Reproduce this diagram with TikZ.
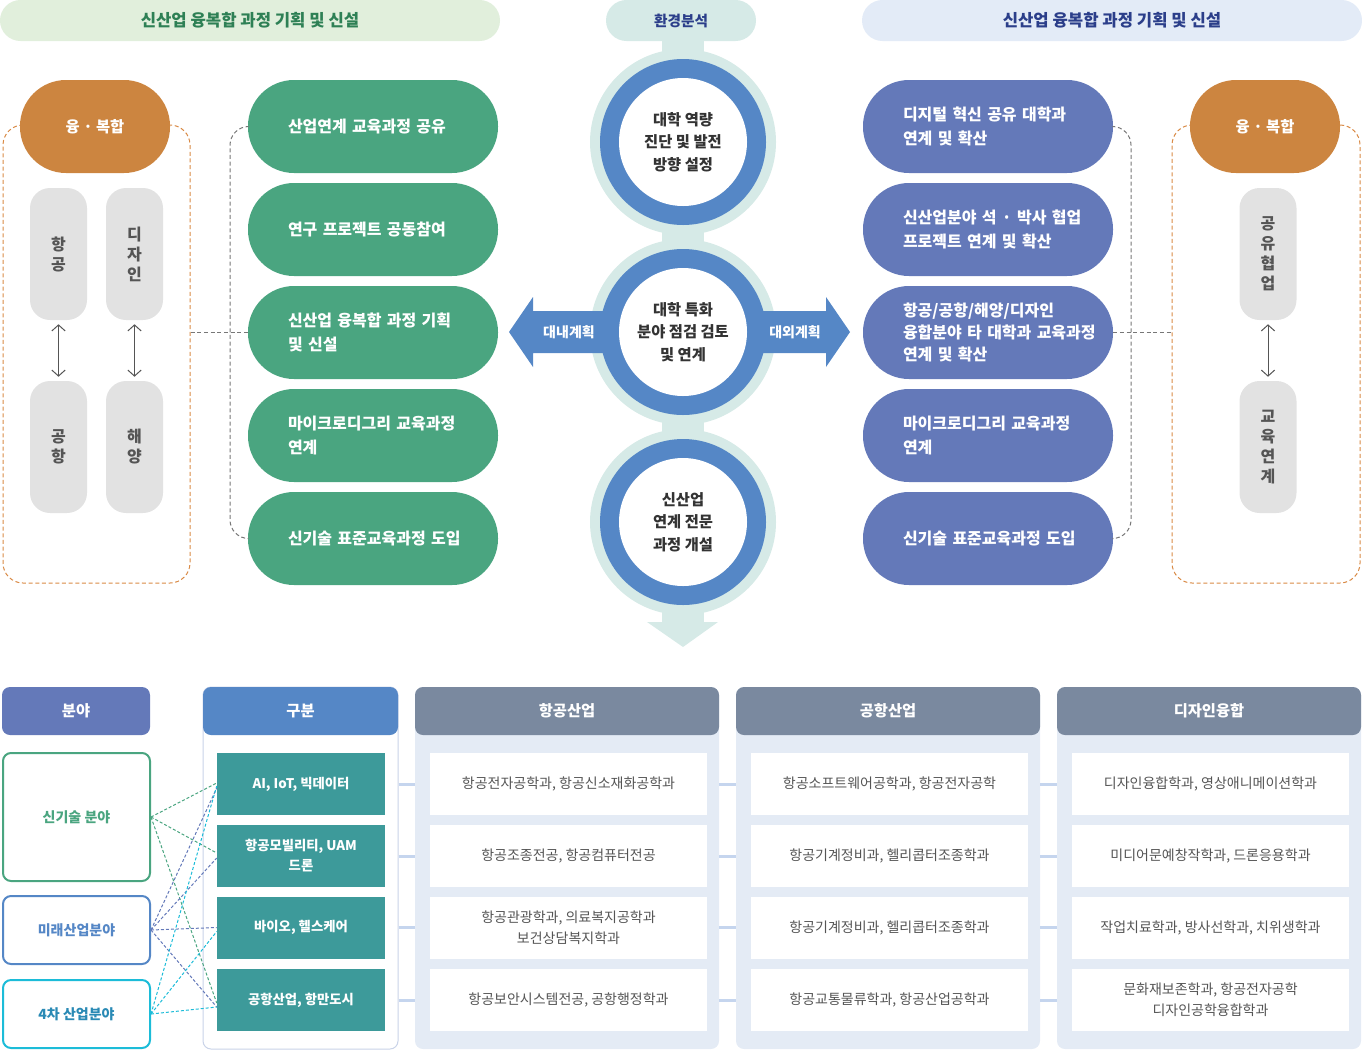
\documentclass[tikz,border=0pt]{standalone}
\usepackage{fontspec}
\setmainfont{Noto Sans CJK KR}
\usetikzlibrary{arrows.meta}
\definecolor{hdrgreenbg}{HTML}{E1EFDC}
\definecolor{hdrgreentx}{HTML}{2E8055}
\definecolor{navy}{HTML}{2B3E8A}
\definecolor{hdrbluebg}{HTML}{E3EBF7}
\definecolor{pgreen}{HTML}{4AA580}
\definecolor{ppurple}{HTML}{6479B9}
\definecolor{porange}{HTML}{CC8540}
\definecolor{pgray}{HTML}{E2E2E2}
\definecolor{tgray}{HTML}{555555}
\definecolor{tdark}{HTML}{333333}
\definecolor{ringblue}{HTML}{5587C6}
\definecolor{ringteal}{HTML}{D6EAE7}
\definecolor{tealbox}{HTML}{3D9A9A}
\definecolor{colhdr}{HTML}{7A899F}
\definecolor{colbg}{HTML}{E4EBF5}
\definecolor{linkblue}{HTML}{C5D5EE}
\definecolor{panelline}{HTML}{C9D3E8}
\definecolor{cyanb}{HTML}{1CBCD8}
\definecolor{cyantx}{HTML}{2A8AB5}
\definecolor{dashgray}{HTML}{777777}
\definecolor{odash}{HTML}{D98A45}
\begin{document}
\begin{tikzpicture}[x=0.75pt,y=-0.75pt,
  every node/.style={inner sep=0pt},
  hdr/.style={rounded corners=15.3pt, minimum height=30.75pt, font=\bfseries\fontsize{12.5pt}{14pt}\selectfont},
  pillbase/.style={rounded corners=34.5pt, minimum width=187.5pt, minimum height=69.75pt, text width=127.5pt, inner xsep=30pt, inner ysep=0pt, align=left, text=white, font=\bfseries\fontsize{12pt}{18pt}\selectfont},
  pillg/.style={pillbase, fill=pgreen},
  pillp/.style={pillbase, fill=ppurple},
  opill/.style={fill=porange, rounded corners=34.5pt, minimum width=112.5pt, minimum height=69.75pt, text=white, font=\bfseries\fontsize{11.5pt}{14pt}\selectfont},
  gpill/.style={fill=pgray, rounded corners=15pt, minimum width=42.75pt, minimum height=99pt, text=tgray, align=center, font=\bfseries\fontsize{12pt}{15pt}\selectfont},
  oframe/.style={draw=odash, dash pattern=on 3pt off 2pt, rounded corners=15pt, line width=0.75pt, minimum width=140.25pt, minimum height=343.5pt},
  graydash/.style={draw=dashgray, dash pattern=on 3pt off 2pt, line width=0.75pt},
  dblarrow/.style={draw=tgray, line width=0.75pt, {Straight Barb[length=4.5pt,width=10pt]}-{Straight Barb[length=4.5pt,width=10pt]}, shorten <=3pt, shorten >=3pt},
  circtext/.style={circle, fill=white, minimum size=96pt, align=center, text=tdark, font=\bfseries\fontsize{11.5pt}{17pt}\selectfont},
  arrowlbl/.style={text=white, font=\bfseries\fontsize{10.5pt}{12pt}\selectfont},
  bhdr/.style={rounded corners=6pt, minimum height=36pt, text=white, font=\bfseries\fontsize{11.5pt}{14pt}\selectfont},
  panel/.style={rounded corners=6pt, minimum height=271.5pt},
  tbox/.style={fill=tealbox, minimum width=126pt, minimum height=46.5pt, align=center, text=white, font=\bfseries\fontsize{10pt}{15pt}\selectfont},
  cell/.style={fill=white, minimum width=207.75pt, minimum height=46.5pt, align=center, text=tgray, font=\fontsize{10.5pt}{16pt}\selectfont},
  lbox/.style={fill=white, line width=1.5pt, rounded corners=6pt, minimum width=110.25pt, font=\bfseries\fontsize{10.5pt}{13pt}\selectfont},
  linkline/.style={draw=linkblue, line width=2.25pt},
  fdash/.style={line width=0.75pt, dash pattern=on 2.25pt off 1.5pt}
]
\useasboundingbox (0,0) rectangle (1362,1050);

% ---------- top headers ----------
\node[hdr, fill=hdrgreenbg, text=hdrgreentx, minimum width=375pt] (hL) at (250,20.5) {신산업 융복합 과정 기획 및 신설};
\node[hdr, fill=hdrbluebg, text=navy, minimum width=375pt] (hR) at (1112,20.5) {신산업 융복합 과정 기획 및 신설};

% ---------- center column ----------
\fill[ringteal] (662,30) rectangle (704,622);
\fill[ringteal] (647,622) -- (718,622) -- (683,647) -- cycle;
\node[hdr, fill=ringteal, text=navy, minimum width=112.5pt, font=\bfseries\fontsize{11pt}{13pt}\selectfont] (hC) at (681,20.5) {환경분석};

\node[circle, fill=ringteal, minimum size=139.5pt] (c1o) at (683,142) {};
\node[circle, fill=ringteal, minimum size=139.5pt] (c2o) at (683,332) {};
\node[circle, fill=ringteal, minimum size=139.5pt] (c3o) at (683,522) {};

\fill[ringblue] (509,332) -- (533,297) -- (533,311) -- (640,311) -- (640,353) -- (533,353) -- (533,367) -- cycle;
\fill[ringblue] (850,332) -- (826,297) -- (826,311) -- (726,311) -- (726,353) -- (826,353) -- (826,367) -- cycle;

\node[circle, fill=ringblue, minimum size=124.5pt] (c1b) at (683,142) {};
\node[circle, fill=ringblue, minimum size=124.5pt] (c2b) at (683,332) {};
\node[circle, fill=ringblue, minimum size=124.5pt] (c3b) at (683,522) {};

\node[circtext] (c1) at (683,142) {대학 역량\\진단 및 발전\\방향 설정};
\node[circtext] (c2) at (683,332) {대학 특화\\분야 점검 검토\\및 연계};
\node[circtext] (c3) at (683,522) {신산업\\연계 전문\\과정 개설};

\node[arrowlbl] (lin) at (569,332) {대내계획};
\node[arrowlbl] (lout) at (795,332) {대외계획};

% ---------- left side ----------
\node[oframe] (ofL) at (96.5,354) {};
\node[opill] (oL) at (95,126.5) {융 · 복합};
\node[gpill] (gA) at (58.5,254) {항\\공};
\node[gpill] (gB) at (134.5,254) {디\\자\\인};
\node[gpill] (gC) at (58.5,447) {공\\항};
\node[gpill] (gD) at (134.5,447) {해\\양};
\draw[dblarrow] (gA.south) -- (gC.north);
\draw[dblarrow] (gB.south) -- (gD.north);

\node[pillg] (g1) at (373,126.5) {\mbox{산업연계 교육과정 공유}};
\node[pillg] (g2) at (373,229.5) {\mbox{연구 프로젝트 공동참여}};
\node[pillg] (g3) at (373,332.5) {\mbox{신산업 융복합 과정 기획}\\\mbox{및 신설}};
\node[pillg] (g4) at (373,435.5) {\mbox{마이크로디그리 교육과정}\\\mbox{연계}};
\node[pillg] (g5) at (373,538.5) {\mbox{신기술 표준교육과정 도입}};

\draw[graydash, rounded corners=14pt] (g1.west) -| (230,332) |- (g5.west);
\draw[graydash] (ofL.east |- g3.west) -- (g3.west);

% ---------- right side ----------
\node[pillp] (p1) at (988,126.5) {\mbox{디지털 혁신 공유 대학과}\\\mbox{연계 및 확산}};
\node[pillp] (p2) at (988,229.5) {\mbox{신산업분야 석 · 박사 협업}\\\mbox{프로젝트 연계 및 확산}};
\node[pillp, font=\bfseries\fontsize{12pt}{16.5pt}\selectfont] (p3) at (988,332.5) {\mbox{항공/공항/해양/디자인}\\\mbox{융합분야 타 대학과 교육과정}\\\mbox{연계 및 확산}};
\node[pillp] (p4) at (988,435.5) {\mbox{마이크로디그리 교육과정}\\\mbox{연계}};
\node[pillp] (p5) at (988,538.5) {\mbox{신기술 표준교육과정 도입}};

\node[oframe, minimum width=141pt] (ofR) at (1266,354) {};
\node[opill] (oR) at (1265,126.5) {융 · 복합};
\node[gpill] (gE) at (1268,254) {공\\유\\협\\업};
\node[gpill] (gF) at (1268,447) {교\\육\\연\\계};
\draw[dblarrow] (gE.south) -- (gF.north);

\draw[graydash, rounded corners=14pt] (p1.east) -| (1131,332) |- (p5.east);
\draw[graydash] (p3.east) -- (ofR.west |- p3.east);

% ---------- bottom table ----------
\node[bhdr, fill=ppurple, minimum width=111pt] (h0) at (76,711) {분야};

\node[panel, draw=panelline, line width=0.75pt, fill=white, minimum width=146.25pt] (pn1) at (300.5,868) {};
\node[bhdr, fill=ringblue, minimum width=146.25pt] (h1) at (300.5,711) {구분};

\node[panel, fill=colbg, minimum width=228pt] (pn2) at (567,868) {};
\node[panel, fill=colbg, minimum width=228pt] (pn3) at (888,868) {};
\node[panel, fill=colbg, minimum width=228pt] (pn4) at (1209,868) {};
\node[bhdr, fill=colhdr, minimum width=228pt] (h2) at (567,711) {항공산업};
\node[bhdr, fill=colhdr, minimum width=228pt] (h3) at (888,711) {공항산업};
\node[bhdr, fill=colhdr, minimum width=228pt] (h4) at (1209,711) {디자인융합};

\node[tbox] (t1) at (301,784) {AI, IoT, 빅데이터};
\node[tbox] (t2) at (301,856) {항공모빌리티, UAM\\드론};
\node[tbox] (t3) at (301,927.5) {바이오, 헬스케어};
\node[tbox] (t4) at (301,1000) {공항산업, 항만도시};

\node[cell] (a1) at (568.5,784) {항공전자공학과, 항공신소재화공학과};
\node[cell] (a2) at (568.5,856) {항공조종전공, 항공컴퓨터전공};
\node[cell] (a3) at (568.5,927.5) {항공관광학과, 의료복지공학과\\보건상담복지학과};
\node[cell] (a4) at (568.5,1000) {항공보안시스템전공, 공항행정학과};

\node[cell] (b1) at (889.5,784) {항공소프트웨어공학과, 항공전자공학};
\node[cell] (b2) at (889.5,856) {항공기계정비과, 헬리콥터조종학과};
\node[cell] (b3) at (889.5,927.5) {항공기계정비과, 헬리콥터조종학과};
\node[cell] (b4) at (889.5,1000) {항공교통물류학과, 항공산업공학과};

\node[cell] (d1) at (1210.5,784) {디자인융합학과, 영상애니메이션학과};
\node[cell] (d2) at (1210.5,856) {미디어문예창작학과, 드론응용학과};
\node[cell] (d3) at (1210.5,927.5) {작업치료학과, 방사선학과, 치위생학과};
\node[cell] (d4) at (1210.5,1000) {문화재보존학과, 항공전자공학\\디자인공학융합학과};

\foreach \r in {1,2,3,4}{
  \draw[linkline] (pn1.east |- t\r.center) -- (pn2.west |- t\r.center);
  \draw[linkline] (pn2.east |- t\r.center) -- (pn3.west |- t\r.center);
  \draw[linkline] (pn3.east |- t\r.center) -- (pn4.west |- t\r.center);
}

\node[lbox, draw=pgreen, text=pgreen, minimum height=96pt] (f1) at (76.5,817) {신기술 분야};
\node[lbox, draw=ringblue, text=ringblue, minimum height=51pt] (f2) at (76.5,930) {미래산업분야};
\node[lbox, draw=cyanb, text=cyantx, minimum height=51pt] (f3) at (76.5,1014) {4차 산업분야};

\draw[fdash, draw=pgreen] (f1.east) -- ([yshift=0.75pt]t1.west);
\draw[fdash, draw=pgreen] (f1.east) -- ([yshift=2.25pt]t2.west);
\draw[fdash, draw=pgreen] (f1.east) -- ([yshift=-2.25pt]t4.west);
\draw[fdash, draw=ppurple] (f2.east) -- ([yshift=-3pt]t1.west);
\draw[fdash, draw=ppurple] (f2.east) -- ([yshift=-1.5pt]t2.west);
\draw[fdash, draw=ppurple] (f2.east) -- (t3.west);
\draw[fdash, draw=ppurple] (f2.east) -- ([yshift=-5.25pt]t4.west);
\draw[fdash, draw=cyanb] (f3.east) -- ([yshift=-1.5pt]t1.west);
\draw[fdash, draw=cyanb] (f3.east) -- ([yshift=-3pt]t3.west);
\draw[fdash, draw=cyanb] (f3.east) -- ([yshift=-5.25pt]t4.west);
\end{tikzpicture}
\end{document}
